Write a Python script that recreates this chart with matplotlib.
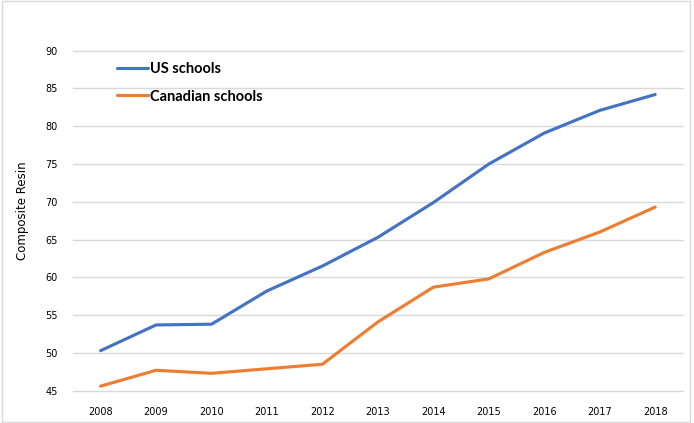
import matplotlib.pyplot as plt
from matplotlib.patches import Rectangle

years = ['2008', '2009', '2010', '2011', '2012', '2013', '2014', '2015', '2016', '2017', '2018']
us_schools = [50.3, 53.7, 53.8, 58.2, 61.5, 65.3, 69.9, 75.0, 79.1, 82.1, 84.2]
canadian_schools = [45.6, 47.7, 47.3, 47.9, 48.5, 54.1, 58.7, 59.8, 63.3, 66.0, 69.3]
y_ticks = [45, 50, 55, 60, 65, 70, 75, 80, 85, 90]

fig = plt.figure(figsize=(6.94, 4.23), dpi=100)
ax = fig.add_axes([0.105, 0.0764, 0.879, 0.8037])

x = range(len(years))
ax.plot(x, us_schools, color='#4472C4', linewidth=2.25, label='US schools',
        solid_capstyle='round')
ax.plot(x, canadian_schools, color='#ED7D31', linewidth=2.25, label='Canadian schools',
        solid_capstyle='round')

ax.set_xlim(-0.5, len(years) - 0.5)
ax.set_ylim(45, 90)
ax.set_xticks(list(x))
ax.set_xticklabels(years)
ax.set_yticks(y_ticks)
ax.tick_params(axis='both', length=0, labelsize=7, colors='#000000')
ax.tick_params(axis='y', pad=11)
ax.tick_params(axis='x', pad=12)
ax.grid(axis='y', color='#D9D9D9', linewidth=1)
for gl in ax.get_ygridlines():
    gl.set_clip_on(False)
ax.set_axisbelow(True)
for s in ax.spines.values():
    s.set_visible(False)

fig.text(0.032, 0.503, 'Composite Resin', rotation=90, ha='center', va='center',
         fontsize=8.5, color='#000000')

leg = fig.legend(loc='upper left', bbox_to_anchor=(0.1686, 0.853), frameon=False,
                 prop={'family': 'Lato', 'weight': 'bold', 'size': 10.5},
                 handlelength=2.12, handletextpad=0.15, labelspacing=0.92,
                 borderpad=0, borderaxespad=0)

# chart border
fig.patches.append(Rectangle((0.0036, 0.003), 0.9906, 0.9935, transform=fig.transFigure,
                             fill=False, edgecolor='#D9D9D9', linewidth=1))

fig.savefig('out.png', dpi=100)
